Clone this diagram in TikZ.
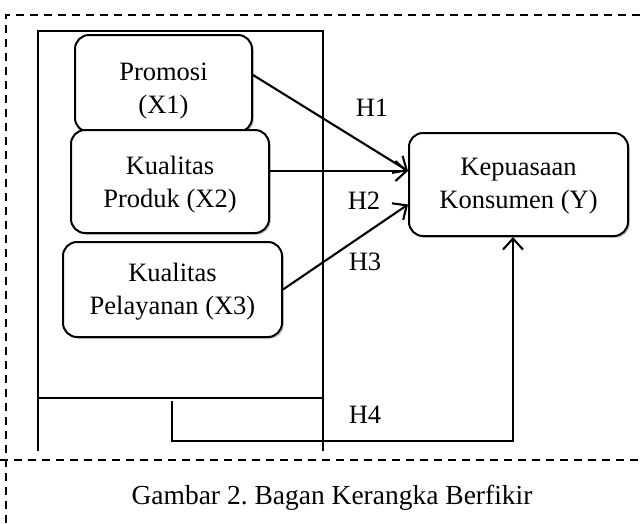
\documentclass[tikz,border=0pt]{standalone}
\usepackage{fontspec}
\setmainfont{Liberation Serif}
\usetikzlibrary{arrows.meta,shadows,calc}
\frenchspacing
\begin{document}
\begin{tikzpicture}[x=1pt,y=-1pt,
  box/.style={draw, line width=2pt, rounded corners=14pt, fill=white, align=center, inner sep=0pt,
    drop shadow={shadow xshift=1.8pt, shadow yshift=-1.8pt, opacity=0.35, fill=black!60}},
  arr/.style={line width=2.1pt, -{Straight Barb[length=11pt,width=20pt,line width=2.1pt]}},
  frameline/.style={line width=1.5pt},
  dsh/.style={line width=1.5pt, dash pattern=on 8pt off 6pt},
  lbl/.style={inner sep=0pt},
  txt/.style={inner sep=0pt, align=center},
  font=\fontsize{26.5}{33}\selectfont]
\useasboundingbox (0,0) rectangle (641,523);
% dashed outer frame
\coordinate (d1) at (6,523);
\coordinate (d2) at (6,15);
\coordinate (d3) at (641,15);
\coordinate (d4) at (0,460);
\coordinate (d5) at (641,460);
\draw[dsh] (d1) -- (d2) -- (d3);
\draw[dsh] (d4) -- (d5);
% inner frame
\coordinate (f1) at (38,31);
\coordinate (f2) at (323,31);
\coordinate (f3) at (38,451);
\coordinate (f4) at (323,451);
\coordinate (f5) at (38,398);
\coordinate (f6) at (323,398);
\draw[frameline] (f3) -- (f1) -- (f2) -- (f4);
\draw[frameline] (f5) -- (f6);
% boxes
\node[box, minimum width=177pt, minimum height=97pt] (prom) at (163.5,83.5) {};
\node[txt] (promt) at (163.5,91) {Promosi\\(X1)};
\node[box, minimum width=198pt, minimum height=103pt] (prod) at (170,181.5) {};
\node[txt] (prodt) at (170,184.5) {Kualitas\\Produk (X2)};
\node[box, minimum width=219pt, minimum height=95pt] (pel) at (172.5,289.5) {};
\node[txt] (pelt) at (172.5,292) {Kualitas\\Pelayanan (X3)};
\node[box, minimum width=219pt, minimum height=103pt] (kep) at (518.5,184.5) {};
\node[txt] (kept) at (518.5,186.5) {Kepuasaan\\Konsumen (Y)};
% arrows
\draw[arr] ([yshift=8.5pt]prom.east) -- ([yshift=13.5pt]kep.west);
\draw[arr] ([yshift=10.5pt]prod.east) -- ([yshift=13.5pt]kep.west);
\draw[arr] (pel.east) -- ([yshift=-20pt]kep.west);
\coordinate (h4a) at (172,401);
\coordinate (h4b) at (513,441);
\draw[arr] (h4a) -- (h4a |- h4b) -- (h4b) -- (h4b |- kep.south);
% labels
\node[lbl] (l1) at (372,108) {H1};
\node[lbl] (l2) at (364,201) {H2};
\node[lbl] (l3) at (365,262) {H3};
\node[lbl] (l4) at (365,415) {H4};
\node[lbl, font=\fontsize{27.5}{33}\selectfont] (cap) at (332,498) {Gambar 2. Bagan Kerangka Berfikir};
\end{tikzpicture}
\end{document}
